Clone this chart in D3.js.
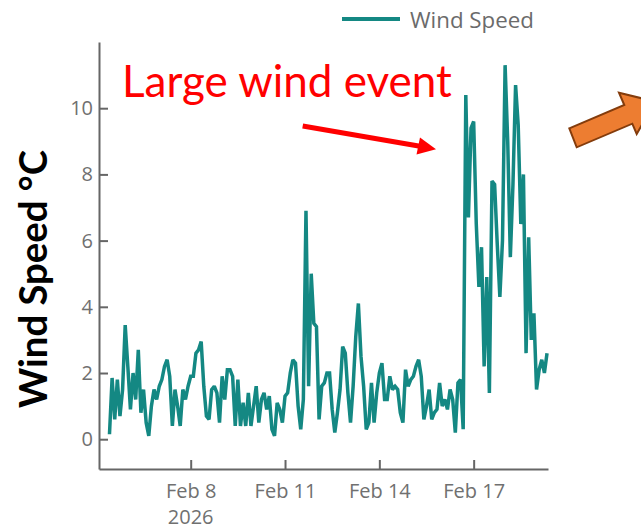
<!DOCTYPE html>
<html><head><meta charset="utf-8">
<script src="https://cdn.jsdelivr.net/npm/d3@7"></script>
<style>html,body{margin:0;padding:0;background:#fff;} svg{display:block;}</style>
</head><body>
<svg id="chart" width="641" height="530"></svg>
<script>
// ---------- data ----------
const seriesName = "Wind Speed";
const yTitle = "Wind Speed °C";
const annotationText = "Large wind event";
const startTime = "2026-02-05T10:00:00Z";
const stepHours = 2;
const windSpeed = [
  0.15,1.85,0.6,1.8,0.7,1.5,3.45,2.2,0.9,2.0,1.2,2.7,0.8,1.5,0.5,0.1,1.0,1.5,1.2,1.6,
  1.8,2.2,2.4,1.9,0.4,1.5,1.0,0.4,1.5,1.2,1.6,1.9,1.9,2.6,2.7,
  2.95,1.6,0.7,0.6,1.5,1.6,1.4,0.5,1.9,1.2,2.1,2.1,1.9,0.4,1.8,0.4,1.1,0.4,1.4,0.4,
  1.0,1.6,0.5,1.2,1.4,0.9,1.3,0.3,0.1,1.1,0.9,0.5,1.3,1.4,2.0,2.4,
  2.3,1.0,0.3,1.2,6.9,1.6,5.0,3.5,3.4,0.6,1.6,1.7,2.0,2.0,0.9,0.2,0.8,1.5,2.8,2.6,
  1.4,0.5,1.6,3.1,4.1,2.5,1.6,0.3,0.5,1.7,0.5,1.4,2.0,2.3,1.2,1.2,1.9,
  1.5,1.6,1.5,0.8,0.5,2.1,1.6,1.8,1.9,2.2,2.4,1.9,0.6,1.0,1.5,0.6,0.8,0.9,1.7,1.0,
  1.2,0.9,1.5,1.2,0.2,1.7,1.8,0.3,
  10.4,6.7,9.4,9.6,6.5,4.6,5.8,2.2,4.9,1.4,7.8,7.7,5.9,4.3,6.0,11.3,9.0,5.5,7.7,10.7,
  9.5,6.5,8.0,2.6,6.1,3.0,3.8,1.5,2.1,2.4,2.0,2.6
];
const xTickDates = ["2026-02-08","2026-02-11","2026-02-14","2026-02-17"];
const xTickLabels = ["Feb 8","Feb 11","Feb 14","Feb 17"];
const xYearLabel = "2026";
const yTicks = [0,2,4,6,8,10];
const xDomain = ["2026-02-05T02:00:00Z","2026-02-19T08:45:00Z"];
const yDomain = [-0.9, 12];

// ---------- layout / style ----------
const teal = "#148883";
const axisColor = "#666";
const labelColor = "#707070";
const plot = {left: 99, right: 548, top: 42, bottom: 469};

const svg = d3.select("#chart");
const t0 = new Date(startTime).getTime();
const data = windSpeed.map((v,i)=>({t:new Date(t0 + i*stepHours*3600e3), v}));

const x = d3.scaleUtc().domain(xDomain.map(d=>new Date(d))).range([plot.left, plot.right]);
const y = d3.scaleLinear().domain(yDomain).range([plot.bottom, plot.top]);

// line
svg.append("path").datum(data)
  .attr("fill","none").attr("stroke",teal).attr("stroke-width",3.5)
  .attr("stroke-linejoin","miter").attr("stroke-miterlimit",2)
  .attr("d", d3.line().x(d=>x(d.t)).y(d=>y(d.v)));

// x axis
const tickDates = xTickDates.map(d=>new Date(d+"T00:00:00Z"));
const xAxis = d3.axisBottom(x).tickValues(tickDates)
  .tickFormat((d,i)=>xTickLabels[i]).tickSizeInner(-9).tickSizeOuter(0).tickPadding(15);
const gx = svg.append("g").attr("transform",`translate(0,${plot.bottom})`).call(xAxis);
gx.select(".domain").attr("stroke",axisColor).attr("stroke-width",2);
gx.selectAll(".tick line").attr("stroke",axisColor).attr("stroke-width",2);
gx.selectAll(".tick text").attr("fill",labelColor).style("font-family","'Open Sans', sans-serif").style("font-size","20px");
gx.append("text").attr("x", x(tickDates[0])).attr("y", 55).attr("text-anchor","middle")
  .attr("fill",labelColor).style("font-family","'Open Sans', sans-serif").style("font-size","20px").text(xYearLabel);

// y axis
const yAxis = d3.axisLeft(y).tickValues(yTicks).tickSizeInner(-9).tickSizeOuter(0).tickPadding(6);
const gy = svg.append("g").attr("transform",`translate(${plot.left},0)`).call(yAxis);
gy.select(".domain").attr("stroke",axisColor).attr("stroke-width",2);
gy.selectAll(".tick line").attr("stroke",axisColor).attr("stroke-width",2);
gy.selectAll(".tick text").attr("fill",labelColor).style("font-family","'Open Sans', sans-serif").style("font-size","20px");

// helper to fit text to a width
function fit(sel, width){
  const w = sel.node().getComputedTextLength();
  const fs = parseFloat(sel.style("font-size"));
  sel.style("font-size", (fs*width/w)+"px");
}

// y title
const yt = svg.append("text").attr("transform","translate(47,279) rotate(-90)")
  .attr("text-anchor","middle").attr("fill","#000")
  .style("font-family","Lato, sans-serif").style("font-weight","bold").style("font-size","40px").text(yTitle);
fit(yt, 258);

// legend
svg.append("line").attr("x1",342).attr("x2",400).attr("y1",19).attr("y2",19)
  .attr("stroke",teal).attr("stroke-width",4);
const lg = svg.append("text").attr("x",410).attr("y",28).attr("fill","#6b6b6b")
  .style("font-family","'Open Sans', sans-serif").style("font-size","21px").text(seriesName);
fit(lg, 124);

// annotation text
const an = svg.append("text").attr("x",122).attr("y",97).attr("fill","#ff0000")
  .style("font-family","Lato, sans-serif").style("font-size","44px").text(annotationText);
fit(an, 330);

// red arrow
svg.append("line").attr("x1",302.7).attr("y1",126).attr("x2",420).attr("y2",146.3)
  .attr("stroke","#ff0000").attr("stroke-width",5);
svg.append("polygon").attr("points","420,137.5 436,149.3 416.5,154.5").attr("fill","#ff0000");

// orange block arrow
svg.append("polygon")
  .attr("points","569.3,128.3 624.3,105 619,92.7 655.5,101.7 636.7,134 632.3,123.7 576.7,147.3")
  .attr("fill","#ED7D31").attr("stroke","#843C0C").attr("stroke-width",2).attr("stroke-linejoin","miter");
</script>
</body></html>
